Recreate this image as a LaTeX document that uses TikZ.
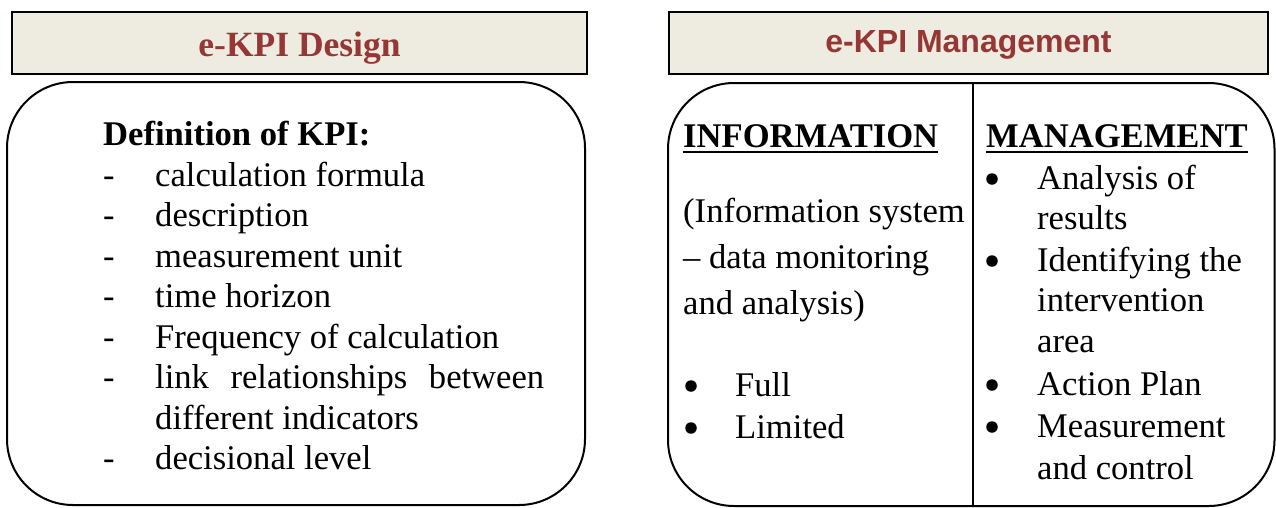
\documentclass[tikz,border=0pt]{standalone}
\usepackage{fontspec}
\setmainfont{Liberation Serif}
\newfontfamily\hdrsans{Liberation Sans}
\definecolor{hdrfill}{HTML}{EEECE1}
\definecolor{hdrtext}{HTML}{953735}

\begin{document}
\begin{tikzpicture}[x=1pt,y=-1pt,
  hdrbox/.style={draw=black, line width=2.6pt, fill=hdrfill, rectangle, inner sep=0pt},
  panel/.style={draw=black, line width=2pt, rounded corners=66pt},
  hdrserif/.style={anchor=base, inner sep=0pt, text=hdrtext, font=\fontsize{35.5}{40}\selectfont\bfseries},
  hdrsansfont/.style={anchor=base, inner sep=0pt, text=hdrtext, font=\fontsize{32}{38}\hdrsans\bfseries},
  body/.style={anchor=base west, inner sep=0pt, font=\fontsize{34.6}{40}\selectfont},
  bodybf/.style={body, font=\fontsize{34.6}{40}\selectfont\bfseries},
  dot/.style={circle, fill=black, inner sep=0pt, minimum size=11.5pt},
  ul/.style={line width=2pt},
  divider/.style={line width=2pt}]
\useasboundingbox (0,0) rectangle (1276,507);

% ---- headers ----
\node[hdrbox, minimum width=575pt, minimum height=62pt] (hdrL) at (299.5,43) {};
\node[hdrserif] (hdrLtxt) at (299.5,56) {e-KPI Design};
\node[hdrbox, minimum width=599pt, minimum height=62pt] (hdrR) at (968.5,43) {};
\node[hdrsansfont] (hdrRtxt) at (968.5,52) {e-KPI Management};

% ---- panels ----
\draw[panel] (7,82) rectangle (585,505);
\draw[panel] (668,83) rectangle (1274.5,506);
\coordinate (dtop) at (973,83);
\coordinate (dbot) at (973,507);
\draw[divider] (dtop) -- (dbot);

% ---- KPI definition list ----
\node[bodybf] (defh) at (103,145.5) {Definition of KPI:};
\foreach \y/\t [count=\i] in {186/calculation formula, 226.5/description,
    267/measurement unit, 307.5/time horizon, 348/Frequency of calculation,
    469.5/decisional level}{
  \node[body] (dash\i) at (103,\y) {-};
  \node[body] (item\i) at (155,\y) {\t};
}
\node[body] (dashlink) at (103,388.5) {-};
\node[body] (link1) at (155,388.5) {\makebox[389pt][s]{link relationships between}};
\node[body] (link2) at (155,429) {different indicators};

% ---- information column ----
\node[bodybf] (info) at (683,147) {INFORMATION};
\draw[ul] ([yshift=-5pt]info.base west) -- ([yshift=-5pt]info.base east);
\node[body] (sys1) at (683,222) {(Information system};
\node[body] (sys2) at (683,268) {– data monitoring};
\node[body] (sys3) at (683,314) {and analysis)};
\node[dot] (bfull) at (691,386) {};
\node[body] (full) at (735,396) {Full};
\node[dot] (blim) at (691,428) {};
\node[body] (lim) at (735,438) {Limited};

% ---- management column ----
\node[bodybf] (mgmt) at (986,147) {MANAGEMENT};
\draw[ul] ([yshift=-5pt]mgmt.base west) -- ([yshift=-5pt]mgmt.base east);
\node[dot] (bm1) at (992,179) {};
\node[body] (m1a) at (1037,189) {Analysis of};
\node[body] (m1b) at (1037,229) {results};
\node[dot] (bm2) at (992,261) {};
\node[body] (m2a) at (1037,271) {Identifying the};
\node[body] (m2b) at (1037,311) {intervention};
\node[body] (m2c) at (1037,352) {area};
\node[dot] (bm3) at (992,385) {};
\node[body] (m3) at (1037,395) {Action Plan};
\node[dot] (bm4) at (992,427) {};
\node[body] (m4a) at (1037,437) {Measurement};
\node[body] (m4b) at (1037,479) {and control};
\end{tikzpicture}
\end{document}
